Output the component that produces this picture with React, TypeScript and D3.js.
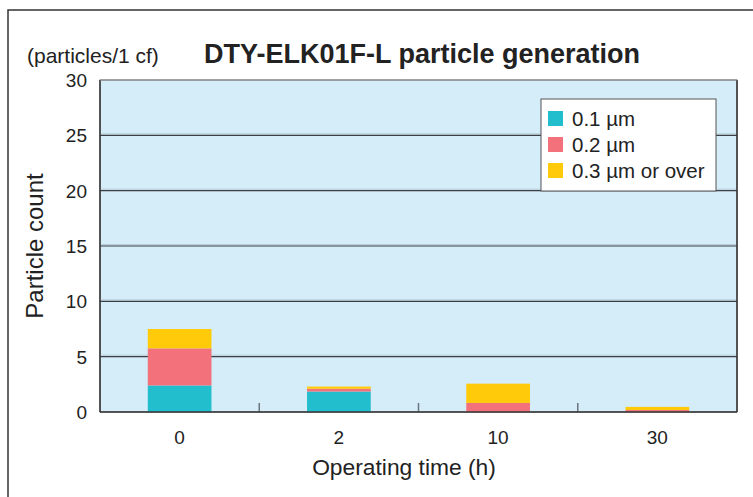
import React from "react";
import * as d3 from "d3";

const categories = ["0", "2", "10", "30"];
const seriesNames = ["0.1 µm", "0.2 µm", "0.3 µm or over"];
const v01 = [2.4, 1.85, 0, 0];
const v02 = [3.35, 0.25, 0.82, 0.18];
const v03 = [1.75, 0.2, 1.74, 0.28];
const yTicks = [0, 5, 10, 15, 20, 25, 30];
const colors = ["#22BECE", "#F2717A", "#FFCA0A"];

export default function App() {
  const W = 753, H = 497;
  const left = 100, right = 737, top = 80, bottom = 412;
  const x = d3.scaleBand<string>().domain(categories).range([left, right]).paddingInner(0.6).paddingOuter(0.3);
  const xOuter = d3.scaleBand<string>().domain(categories).range([left, right]);
  const y = d3.scaleLinear().domain([0, 30]).range([bottom, top]);
  const rows = categories.map((c, i) => ({ cat: c, s0: v01[i], s1: v02[i], s2: v03[i] }));
  const stack = d3.stack<any>().keys(["s0", "s1", "s2"])(rows);
  const font = "'Liberation Sans', Arial, Helvetica, sans-serif";
  return (
    <svg width={W} height={H} style={{ position: "absolute", left: 0, top: 0, background: "#fff" }} fontFamily={font}>
      <rect x={0} y={0} width={W} height={H} fill="#fff" />
      {/* outer frame */}
      <path d={`M8,${H} L8,10 L${W},10`} fill="none" stroke="#333" strokeWidth={1.5} />
      {/* plot bg */}
      <rect x={left} y={top} width={right - left} height={bottom - top} fill="#D5EDF9" stroke="#777" strokeWidth={1} />
      {/* grid */}
      {yTicks.filter(t => t > 0 && t < 30).map(t => (
        <g key={t}>
          <line x1={left} x2={right} y1={y(t) - 1.5} y2={y(t) - 1.5} stroke="#b8ccd8" strokeWidth={1} />
          <line x1={left} x2={right} y1={y(t)} y2={y(t)} stroke="#3a3f44" strokeWidth={1.2} />
        </g>
      ))}
      {/* bars */}
      {stack.map((layer, li) => (
        <g key={li} fill={colors[li]}>
          {layer.map((d, i) => (
            d[1] - d[0] > 0 ? (
              <rect key={i} x={x(categories[i])} width={x.bandwidth()} y={y(d[1])} height={y(d[0]) - y(d[1])} />
            ) : null
          ))}
        </g>
      ))}
      {/* x tick marks at band boundaries */}
      {categories.slice(1).map(c => (
        <line key={c} x1={xOuter(c)} x2={xOuter(c)} y1={bottom} y2={bottom - 9} stroke="#6b757c" strokeWidth={1.5} />
      ))}
      {/* axes */}
      <line x1={left} x2={left} y1={top} y2={bottom} stroke="#333" strokeWidth={1.5} />
      <line x1={right} x2={right} y1={top} y2={bottom} stroke="#333" strokeWidth={1.5} />
      <line x1={left} x2={right} y1={bottom} y2={bottom} stroke="#333" strokeWidth={1.5} />
      <line x1={left} x2={right} y1={top} y2={top} stroke="#888" strokeWidth={1} />
      {/* y tick labels */}
      {yTicks.map(t => (
        <text key={t} x={87} y={y(t)} dy="0.36em" textAnchor="end" fontSize={19} fill="#222">{t}</text>
      ))}
      {/* x tick labels */}
      {categories.map(c => (
        <text key={c} x={x(c)! + x.bandwidth() / 2} y={437} dy="0.36em" textAnchor="middle" fontSize={19} fill="#222">{c}</text>
      ))}
      {/* titles */}
      <text x={422} y={63} textAnchor="middle" fontSize={27} fontWeight="bold" fill="#222">DTY-ELK01F-L particle generation</text>
      <text x={27} y={63} fontSize={21} fill="#222">(particles/1 cf)</text>
      <text transform={`translate(43,246) rotate(-90)`} textAnchor="middle" fontSize={24} fill="#222">Particle count</text>
      <text x={404} y={475} textAnchor="middle" fontSize={22.8} fill="#222">Operating time (h)</text>
      {/* legend */}
      <rect x={541} y={99} width={175} height={92} fill="#fff" stroke="#555" strokeWidth={1} />
      {seriesNames.map((s, i) => (
        <g key={s} transform={`translate(548,${111 + i * 26})`}>
          <rect x={0} y={0} width={15} height={15} fill={colors[i]} />
          <text x={24} y={8} dy="0.36em" fontSize={20.5} fill="#222">{s}</text>
        </g>
      ))}
    </svg>
  );
}
